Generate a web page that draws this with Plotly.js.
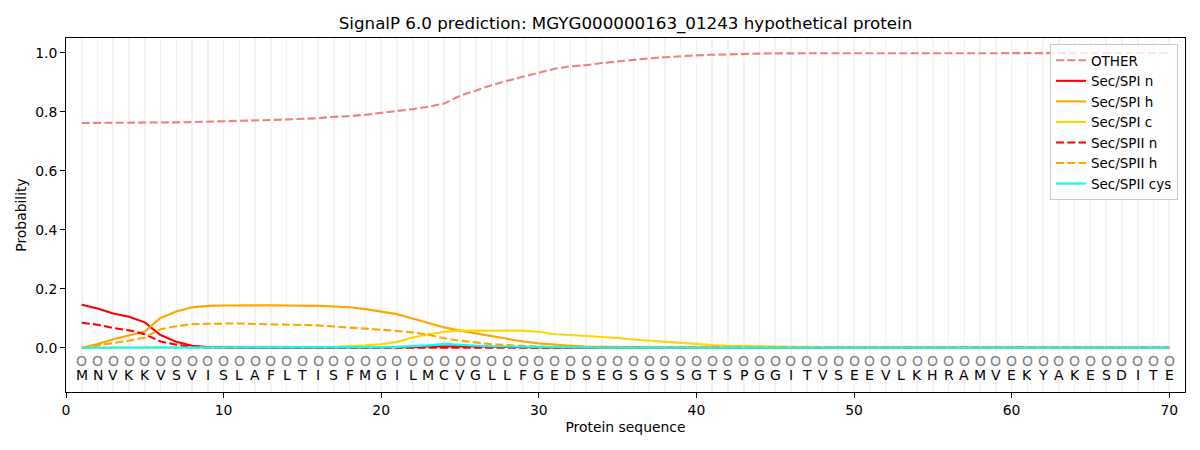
<!DOCTYPE html>
<html>
<head>
<meta charset="utf-8">
<script src="https://cdn.plot.ly/plotly-3.0.1.min.js"></script>
<style>html,body{margin:0;padding:0;background:#fff;}#chart{width:1200px;height:450px;}</style>
</head>
<body>
<div id="chart"></div>
<script>
// ---- data ----
const sequence = "MNVKKVSVISLAFLTISFMGILMCVGLLFGEDSEGSGSSGTSPGGITVSEEVLKHRAMVEKYAKESDITE".split("");
const labels = sequence.map(() => "O");
const positions = sequence.map((_, i) => i + 1);

const other = [0.762,0.762,0.762,0.763,0.763,0.764,0.764,0.765,0.766,0.768,
               0.769,0.771,0.772,0.774,0.776,0.778,0.783,0.785,0.790,0.796,
               0.801,0.809,0.817,0.828,0.854,0.873,0.890,0.905,0.919,0.931,
               0.946,0.954,0.958,0.965,0.971,0.976,0.981,0.985,0.989,0.991,
               0.993,0.995,0.996,0.997,0.998,0.998,0.999,0.999,0.999,0.999,
               0.999,0.999,0.999,0.999,0.999,0.999,0.999,0.999,0.999,0.998,
               0.998,0.998,0.998,0.998,0.998,0.998,0.998,0.998,0.998,0.999];
const spiN = [0.146,0.133,0.116,0.105,0.086,0.043,0.020,0.007,0.002,0.001,
              0.001,0,0,0,0,0,0,0,0,0.001,
              0.001,0.002,0.004,0.005,0.005,0.004,0.003,0.002,0.001,0,
              0,0,0,0,0,0,0,0,0,0,
              0,0,0,0,0,0,0,0,0,0,
              0,0,0,0,0,0,0,0,0,0,
              0,0,0,0,0,0,0,0,0,0];
const spiH = [0,0.013,0.029,0.041,0.055,0.101,0.123,0.137,0.142,0.143,
              0.144,0.144,0.144,0.143,0.143,0.142,0.140,0.137,0.131,0.123,
              0.114,0.099,0.084,0.069,0.058,0.049,0.038,0.029,0.021,0.015,
              0.010,0.007,0.004,0.003,0.002,0.002,0.001,0.001,0.001,0.001,
              0.001,0.001,0.001,0.001,0.001,0,0,0,0,0,
              0,0,0,0,0,0,0,0,0,0,
              0,0,0,0,0,0,0,0,0,0];
const spiC = [0,0,0,0,0,0,0,0.001,0.001,0.001,
              0.001,0.001,0.001,0.001,0.001,0.002,0.003,0.005,0.008,0.012,
              0.020,0.035,0.046,0.054,0.058,0.058,0.058,0.059,0.058,0.054,
              0.046,0.043,0.040,0.036,0.033,0.028,0.024,0.019,0.015,0.011,
              0.009,0.007,0.006,0.005,0.004,0.003,0.002,0.002,0.001,0.001,
              0,0,0,0,0,0,0,0,0,0,
              0,0,0,0,0,0,0,0,0,0];
const spiiN = [0.085,0.078,0.067,0.059,0.046,0.021,0.010,0.003,0.001,0,
               0,0,0,0,0,0,0,0,0,0,
               0,0,0,0,0,0,0,0,0,0,
               0,0,0,0,0,0,0,0,0,0,
               0,0,0,0,0,0,0,0,0,0,
               0,0,0,0,0,0,0,0,0,0,
               0,0,0,0,0,0,0,0,0,0];
const spiiH = [0,0.007,0.016,0.024,0.035,0.063,0.073,0.080,0.082,0.082,
               0.082,0.081,0.081,0.080,0.078,0.076,0.072,0.069,0.066,0.061,
               0.057,0.052,0.044,0.032,0.024,0.017,0.012,0.009,0.006,0.004,
               0.003,0.002,0.001,0.001,0,0,0,0,0,0,
               0,0,0,0,0,0,0,0,0,0,
               0,0,0,0,0,0,0,0,0,0,
               0,0,0,0,0,0,0,0,0,0];
const spiiCys = [0,0,0,0,0,0,0,0,0,0,
                 0,0,0,0,0,0,0,0,0.001,0.002,
                 0.003,0.005,0.008,0.013,0.009,0.007,0.005,0.004,0.003,0.002,
                 0.001,0,0,0,0,0,0,0,0,0,
                 0,0,0,0,0,0,0,0,0,0,
                 0,0,0,0,0,0,0,0,0,0,
                 0,0,0,0,0,0,0,0,0,0];
const seriesNames = ["OTHER","Sec/SPI n","Sec/SPI h","Sec/SPI c","Sec/SPII n","Sec/SPII h","Sec/SPII cys"];
const xTicks = [0,10,20,30,40,50,60,70];
const yTicks = [0,0.2,0.4,0.6,0.8,1.0];

// ---- styles ----
const FONT = "DejaVu Sans, sans-serif";
const DASH = "8px,3.3px";
const styles = [
  {color:"#f08080", dash:DASH},
  {color:"#ff0000", dash:"solid"},
  {color:"#ffa500", dash:"solid"},
  {color:"#ffd700", dash:"solid"},
  {color:"#ff0000", dash:DASH},
  {color:"#ffa500", dash:DASH},
  {color:"#00ffff", dash:"solid"}
];
const values = [other, spiN, spiH, spiC, spiiN, spiiH, spiiCys];

const traces = values.map((v, k) => ({
  x: positions, y: v, name: seriesNames[k], type: "scatter", mode: "lines",
  line: {color: styles[k].color, dash: styles[k].dash, width: 2.1},
  hoverinfo: "x+y+name"
}));

const annotations = [];
positions.forEach((p, i) => {
  annotations.push({x: p, y: -0.045, xref: "x", yref: "y", text: labels[i], showarrow: false,
    font: {family: FONT, size: 14, color: "#808080"}, xanchor: "center", yanchor: "middle"});
  annotations.push({x: p, y: -0.094, xref: "x", yref: "y", text: sequence[i], showarrow: false,
    font: {family: FONT, size: 14, color: "#000"}, xanchor: "center", yanchor: "middle"});
});

const layout = {
  width: 1200, height: 450,
  margin: {l: 66, r: 15, t: 38, b: 58},
  paper_bgcolor: "#fff", plot_bgcolor: "#fff",
  font: {family: FONT, size: 13.9, color: "#000"},
  title: {text: "SignalP 6.0 prediction: MGYG000000163_01243 hypothetical protein",
          font: {family: FONT, size: 16.7, color: "#000"}, x: 0.5, xref: "paper", y: 0.948, yref: "container", yanchor: "middle"},
  xaxis: {range: [0, 71], tickvals: xTicks, ticktext: xTicks.map(String),
          ticks: "outside", ticklen: 5, tickwidth: 1, tickcolor: "#000",
          showline: true, linecolor: "#000", linewidth: 1, mirror: true,
          showgrid: true, gridcolor: "#f3f3f3", gridwidth: 1.6, zeroline: false,
          minor: {dtick: 1, tick0: 0, showgrid: true, gridcolor: "#f3f3f3", gridwidth: 1.6, ticks: ""},
          title: {text: "Protein sequence", font: {family: FONT, size: 13.9}, standoff: 5},
          automargin: false},
  yaxis: {range: [-0.15, 1.05], tickvals: yTicks, ticktext: yTicks.map(v => v.toFixed(1)),
          ticks: "outside", ticklen: 5, tickwidth: 1, tickcolor: "#000",
          showline: true, linecolor: "#000", linewidth: 1, mirror: true,
          showgrid: false, zeroline: false,
          title: {text: "Probability", font: {family: FONT, size: 13.9}, standoff: 5},
          automargin: false},
  legend: {x: 0.9937, y: 0.983, xanchor: "right", yanchor: "top",
           bgcolor: "rgba(255,255,255,0.8)", bordercolor: "#cccccc", borderwidth: 1,
           font: {family: FONT, size: 13.5, color: "#000"}, tracegroupgap: 0},
  showlegend: true,
  annotations: annotations
};

Plotly.newPlot("chart", traces, layout, {displayModeBar: false, staticPlot: true});
</script>
</body>
</html>
